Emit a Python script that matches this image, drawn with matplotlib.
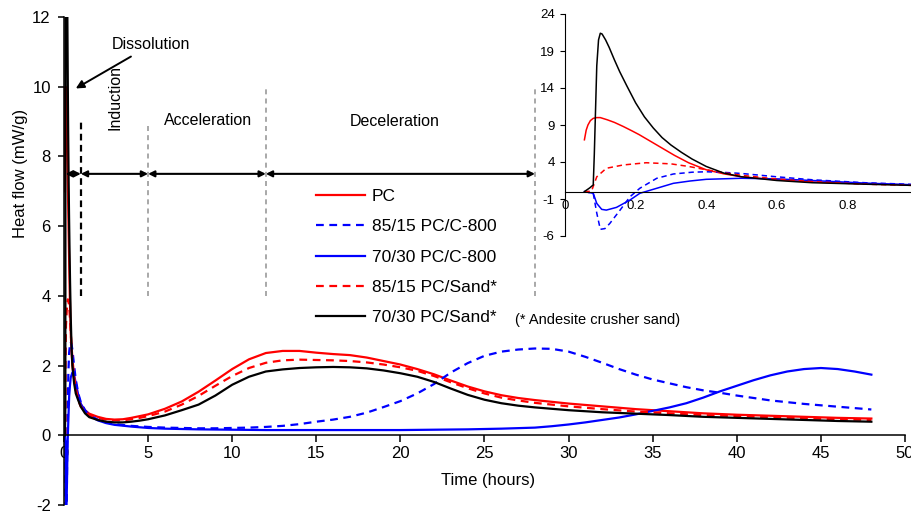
import matplotlib
matplotlib.use('Agg')
from matplotlib import pyplot as plt

plt.rcParams['font.family'] = ['Liberation Sans', 'DejaVu Sans']
plt.rcParams['axes.unicode_minus'] = False

# --- data (time in hours, heat flow in mW/g) ---
t_pc = [0.055, 0.06, 0.065, 0.072, 0.08, 0.09, 0.1, 0.12, 0.14, 0.165, 0.19, 0.21, 0.235, 0.26, 0.285, 0.31, 0.35, 0.4, 0.45, 0.5, 0.6, 0.7, 0.85,
        1.0, 1.25, 1.5, 2, 2.5, 3, 3.5, 4, 4.5, 5, 6, 7, 8, 9, 10, 11, 12, 13, 14, 15, 16, 17, 18, 19,
        20, 21, 22, 23, 24, 25, 26, 27, 28, 29, 30, 32, 34, 36, 38, 40, 42, 44, 46, 48]
hf_pc = [7.0, 8.3, 9.0, 9.6, 9.9, 10.0, 10.0, 9.7, 9.35, 8.8, 8.2, 7.7, 7.0, 6.3, 5.6, 4.9, 3.9, 2.95, 2.4, 2.0, 1.6, 1.3, 1.05,
         0.88, 0.72, 0.62, 0.53, 0.47, 0.45, 0.46, 0.5, 0.55, 0.6, 0.76, 0.97, 1.25, 1.57, 1.9, 2.18, 2.36, 2.42, 2.42, 2.37, 2.33, 2.3, 2.23, 2.13,
         2.03, 1.9, 1.75, 1.57, 1.4, 1.26, 1.15, 1.07, 1.01, 0.96, 0.91, 0.83, 0.75, 0.69, 0.63, 0.59, 0.56, 0.53, 0.5, 0.48]

t_c15 = [0.055, 0.08, 0.09, 0.1, 0.113, 0.127, 0.156, 0.184, 0.212, 0.26, 0.307, 0.36, 0.4, 0.45, 0.5, 0.6, 0.7, 0.85,
         1.0, 1.25, 1.5, 2, 2.5, 3, 4, 5, 6, 7, 8, 9, 10, 11, 12, 13, 14, 15, 16, 17, 18, 19,
         20, 21, 22, 23, 24, 25, 26, 27, 28, 29, 30, 31, 32, 33, 34, 35, 36, 37, 38, 39, 40, 42, 44, 46, 48]
hf_c15 = [0, -0.25, -2.9, -5.1, -5.0, -4.3, -2.5, -0.7, 0.45, 1.8, 2.38, 2.62, 2.68, 2.6, 2.45, 2.0, 1.6, 1.2,
          0.95, 0.72, 0.58, 0.45, 0.37, 0.32, 0.27, 0.24, 0.22, 0.21, 0.2, 0.2, 0.21, 0.22, 0.24, 0.27, 0.32, 0.39, 0.45, 0.53, 0.65, 0.81,
          0.98, 1.2, 1.47, 1.8, 2.07, 2.28, 2.4, 2.46, 2.49, 2.48, 2.4, 2.25, 2.08, 1.9, 1.74, 1.6, 1.49, 1.38, 1.29, 1.22, 1.14, 1.0, 0.9, 0.82, 0.74]

t_c30 = [0.055, 0.08, 0.09, 0.104, 0.117, 0.146, 0.184, 0.212, 0.26, 0.307, 0.354, 0.4, 0.5, 0.6, 0.7, 0.85,
         1.0, 1.25, 1.5, 2, 2.5, 3, 4, 5, 6, 8, 10, 12, 14, 16, 18, 20, 22, 24, 26, 28, 29, 30, 31, 32, 33, 34, 35,
         36, 37, 38, 39, 40, 41, 42, 43, 44, 45, 46, 47, 48]
hf_c30 = [0, -0.23, -1.6, -2.4, -2.5, -2.13, -1.14, -0.23, 0.45, 1.12, 1.43, 1.66, 1.8, 1.72, 1.5, 1.15,
          0.9, 0.7, 0.57, 0.43, 0.35, 0.3, 0.25, 0.21, 0.19, 0.17, 0.16, 0.15, 0.15, 0.15, 0.15, 0.15, 0.16, 0.17, 0.19, 0.22, 0.26, 0.31, 0.37, 0.44, 0.51, 0.6, 0.7,
          0.8, 0.92, 1.08, 1.26, 1.42, 1.58, 1.72, 1.83, 1.9, 1.93, 1.9, 1.83, 1.74]

t_s15 = [0.055, 0.075, 0.09, 0.117, 0.165, 0.23, 0.3, 0.35, 0.4, 0.45, 0.5, 0.6, 0.7, 0.85,
         1.0, 1.25, 1.5, 2, 2.5, 3, 3.5, 4, 4.5, 5, 6, 7, 8, 9, 10, 11, 12, 13, 14, 15, 16, 17, 18, 19,
         20, 21, 22, 23, 24, 25, 26, 27, 28, 30, 32, 34, 36, 38, 40, 42, 44, 46, 48]
hf_s15 = [0, 0.05, 2.0, 3.15, 3.6, 3.9, 3.75, 3.4, 2.95, 2.55, 2.2, 1.7, 1.35, 1.0,
          0.82, 0.68, 0.58, 0.5, 0.45, 0.43, 0.43, 0.46, 0.5, 0.55, 0.68, 0.88, 1.13, 1.42, 1.7, 1.93, 2.08, 2.15, 2.17, 2.16, 2.15, 2.13, 2.09, 2.03,
          1.95, 1.85, 1.7, 1.52, 1.35, 1.2, 1.08, 1.0, 0.93, 0.83, 0.75, 0.68, 0.63, 0.58, 0.55, 0.52, 0.49, 0.46, 0.44]

t_s30 = [0.055, 0.07, 0.08, 0.083, 0.09, 0.095, 0.1, 0.105, 0.115, 0.125, 0.14, 0.155, 0.175, 0.2, 0.225, 0.25, 0.275, 0.3, 0.33, 0.36, 0.4, 0.45, 0.5, 0.6, 0.7, 0.85,
         1.0, 1.25, 1.5, 2, 2.5, 3, 3.5, 4, 4.5, 5, 6, 7, 8, 9, 10, 11, 12, 13, 14, 15, 16, 17, 18, 19,
         20, 21, 22, 23, 24, 25, 26, 27, 28, 30, 32, 34, 36, 38, 40, 42, 44, 46, 48]
hf_s30 = [0, 0.5, 0.9, 5.0, 17.0, 20.5, 21.4, 21.3, 20.5, 19.5, 17.8, 16.2, 14.3, 12.0, 10.1, 8.6, 7.3, 6.3, 5.3, 4.4, 3.4, 2.5, 2.0, 1.5, 1.2, 1.0,
          0.82, 0.63, 0.52, 0.44, 0.39, 0.37, 0.37, 0.39, 0.42, 0.46, 0.57, 0.72, 0.88, 1.14, 1.45, 1.68, 1.83, 1.89, 1.93, 1.95, 1.96, 1.95, 1.92, 1.86,
          1.78, 1.68, 1.53, 1.34, 1.16, 1.02, 0.92, 0.85, 0.8, 0.72, 0.66, 0.62, 0.58, 0.53, 0.5, 0.47, 0.44, 0.41, 0.39]

labels = ['PC', '85/15 PC/C-800', '70/30 PC/C-800', '85/15 PC/Sand*', '70/30 PC/Sand*']

# stage markers
stage_bounds = [0.1, 1, 5, 12, 28]
stage_lines = [(1, 4, 9), (5, 4, 9), (12, 4, 10), (28, 4, 10)]

series = [(t_pc, hf_pc, 'red', '-'),
          (t_c15, hf_c15, 'blue', (0, (3.5, 2.5))),
          (t_c30, hf_c30, 'blue', '-'),
          (t_s15, hf_s15, 'red', (0, (3.5, 2.5))),
          (t_s30, hf_s30, 'black', '-')]

fig = plt.figure(figsize=(9.12, 5.14), dpi=100)
ax = fig.add_axes([64 / 912, 9 / 514, 841 / 912, 488 / 514])

for (t, hf, c, ls), lab in zip(series, labels):
    ax.plot(t, hf, color=c, linestyle=ls, linewidth=1.6, label=lab)

ax.set_xlim(0, 50)
ax.set_ylim(-2, 12)
ax.set_xticks(range(0, 51, 5))
ax.set_yticks(range(-2, 13, 2))
ax.spines['top'].set_visible(False)
ax.spines['right'].set_visible(False)
ax.spines['bottom'].set_position(('data', 0))
ax.spines['bottom'].set_linewidth(1.1)
ax.spines['left'].set_linewidth(1.1)
ax.tick_params(axis='x', direction='out', length=5, width=1.1, labelsize=12, pad=3)
ax.tick_params(axis='y', direction='out', length=4.5, width=1.1, labelsize=12, pad=5)

ax.set_xlabel('Time (hours)', fontsize=12)
ax.xaxis.set_label_coords(0.504, 0.065)
ax.set_ylabel('Heat flow (mW/g)', fontsize=12)
ax.yaxis.set_label_coords(-0.043, 0.68)

# stage separators
for i, (x, y0, y1) in enumerate(stage_lines):
    col = 'black' if i == 0 else '#9a9a9a'
    dash = (0, (3, 2)) if i == 0 else (0, (3, 2.5))
    lw = 1.6 if i == 0 else 1.2
    ax.plot([x, x], [y0, y1], color=col, linestyle=dash, linewidth=lw)

for a, b in zip(stage_bounds[:-1], stage_bounds[1:]):
    ax.annotate('', xy=(b, 7.5), xytext=(a, 7.5),
                arrowprops=dict(arrowstyle='<|-|>', color='black', lw=1.5,
                                mutation_scale=9, shrinkA=0, shrinkB=0))

ax.annotate('Dissolution', xy=(0.7, 9.95), xytext=(2.85, 11.2), fontsize=11.5,
            va='center', ha='left',
            arrowprops=dict(arrowstyle='-|>', color='black', lw=1.4, mutation_scale=12,
                            shrinkA=2, shrinkB=0))
ax.text(3.05, 9.7, 'Induction', rotation=90, fontsize=11.5, ha='center', va='center')
ax.text(8.57, 9.04, 'Acceleration', fontsize=11.5, ha='center', va='center')
ax.text(19.68, 9.0, 'Deceleration', fontsize=11.5, ha='center', va='center')
ax.text(26.8, 3.3, '(* Andesite crusher sand)', fontsize=10.5, ha='left', va='center')

ax.legend(loc='upper left', bbox_to_anchor=(252 / 841, (505 - 189) / 488), frameon=False,
          fontsize=12.5, handlelength=2.8, handletextpad=0.4, labelspacing=0.87,
          borderaxespad=0, borderpad=0)

# inset: first hour
ins = fig.add_axes([565 / 912, 278 / 514, 353 / 912, 222 / 514])
for t, hf, c, ls in series:
    ins.plot(t, hf, color=c, linestyle=ls, linewidth=1.1)
ins.set_xlim(0, 1)
ins.set_ylim(-6, 24)
ins.set_yticks(range(-6, 25, 5))
ins.set_xticks([0, 0.2, 0.4, 0.6, 0.8])
ins.set_xticklabels(['0', '0.2', '0.4', '0.6', '0.8'])
ins.spines['top'].set_visible(False)
ins.spines['right'].set_visible(False)
ins.spines['bottom'].set_position(('data', 0))
ins.patch.set_alpha(0)
ins.tick_params(axis='x', length=0, labelsize=9.5, pad=6)
ins.tick_params(axis='y', direction='out', length=3.5, labelsize=9.5, pad=4)

fig.savefig('out.png', dpi=100)
